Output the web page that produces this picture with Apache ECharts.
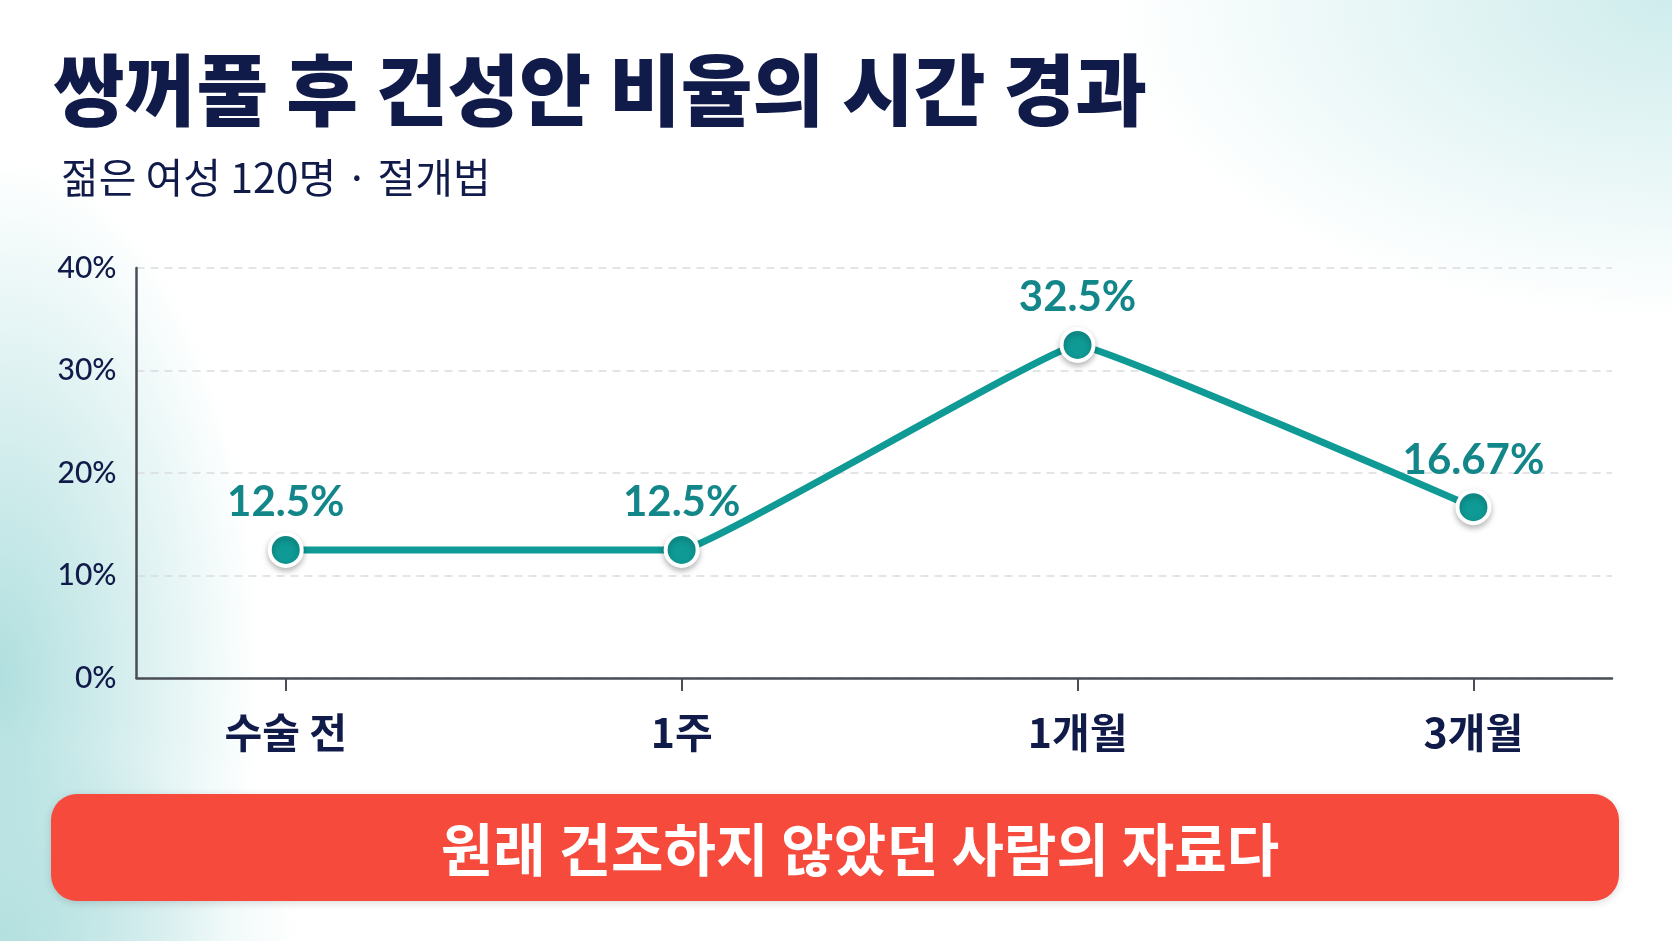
<!DOCTYPE html>
<html>
<head>
<meta charset="utf-8">
<title>쌍꺼풀 후 건성안 비율의 시간 경과</title>
<script src="https://cdn.jsdelivr.net/npm/echarts@6/dist/echarts.min.js"></script>
<style>
  html, body { margin: 0; padding: 0; }
  body {
    width: 1672px; height: 941px; overflow: hidden;
    background:
      radial-gradient(ellipse 260px 520px at 0% 72%, rgba(150, 212, 212, 0.75), rgba(150, 212, 212, 0) 100%),
      radial-gradient(ellipse 560px 320px at 100% 0%, rgba(175, 224, 224, 0.6), rgba(175, 224, 224, 0) 100%),
      radial-gradient(ellipse 300px 200px at 0% 100%, rgba(160, 215, 215, 0.6), rgba(160, 215, 215, 0) 100%),
      #ffffff;
  }
  #chart { width: 1672px; height: 941px; }
</style>
</head>
<body>
<div id="chart"></div>
<script>
  // 데이터
  var categories = ['수술 전', '1주', '1개월', '3개월'];
  var dryEyeRate = [12.5, 12.5, 32.5, 16.67];
  var yTicks = [0, 10, 20, 30, 40];

  var titleText = '쌍꺼풀 후 건성안 비율의 시간 경과';
  var subText = '젊은 여성 120명 · 절개법';
  var noteText = '원래 건조하지 않았던 사람의 자료다';

  var navy = '#111b4a';
  var teal = '#0f9a95';
  var krFont = '"Noto Sans CJK KR", "Noto Sans", sans-serif';
  var numFont = 'Lato, "Noto Sans CJK KR", sans-serif';

  var points = dryEyeRate.map(function (v, i) { return [i, v]; });
  var catIdx = categories.map(function (c, i) { return i; });

  var chart = echarts.init(document.getElementById('chart'));
  chart.setOption({
    backgroundColor: 'transparent',
    title: [{
      text: titleText,
      left: 48, top: 46,
      textStyle: { fontFamily: krFont, fontSize: 78, fontWeight: 900, color: navy }
    }, {
      text: subText,
      left: 56, top: 152,
      textStyle: { fontFamily: krFont, fontSize: 41, fontWeight: 'normal', color: navy }
    }],
    grid: { left: 136.5, right: 60, top: 268, bottom: 263 },
    xAxis: {
      type: 'value',
      min: -0.377,
      max: 3.35,
      axisLine: { show: true, onZero: false, lineStyle: { color: '#4a4d55', width: 2.5 } },
      axisTick: { show: true, customValues: catIdx, length: 13, lineStyle: { color: '#4a4d55', width: 2 } },
      axisLabel: {
        customValues: catIdx,
        margin: 34,
        fontFamily: krFont, fontSize: 41, fontWeight: 'bold', color: navy,
        formatter: function (v) { return categories[Math.round(v)]; }
      },
      splitLine: { show: false }
    },
    yAxis: {
      type: 'value',
      min: yTicks[0],
      max: yTicks[yTicks.length - 1],
      interval: 10,
      axisLine: { show: true, onZero: false, lineStyle: { color: '#4a4d55', width: 2.5 } },
      axisTick: { show: false },
      axisLabel: {
        margin: 20,
        fontFamily: numFont, fontSize: 30, fontWeight: 500, color: navy,
        formatter: '{value}%'
      },
      splitLine: { show: true, lineStyle: { color: '#d9dce1', width: 1.5, type: [8, 6] } }
    },
    series: [{
      type: 'line',
      data: points,
      smooth: 0.06,
      symbol: 'circle',
      symbolSize: 32,
      lineStyle: { color: teal, width: 7, join: 'round', cap: 'round' },
      itemStyle: {
        color: teal, borderColor: '#ffffff', borderWidth: 4,
        shadowColor: 'rgba(0,0,0,0.25)', shadowBlur: 6, shadowOffsetY: 3
      },
      label: {
        show: true, position: 'top', distance: 8,
        fontFamily: numFont, fontSize: 42, fontWeight: 'bold', color: '#13868a',
        formatter: function (p) { return p.value[1] + '%'; }
      },
      z: 3
    }],
    graphic: [{
      type: 'rect',
      shape: { x: 51, y: 794, width: 1568, height: 107, r: 26 },
      style: { fill: '#f64a3d', shadowColor: 'rgba(0,0,0,0.15)', shadowBlur: 8, shadowOffsetY: 2 }
    }, {
      type: 'text',
      x: 860, y: 849,
      style: {
        text: noteText, fill: '#ffffff',
        font: 'bold 57px ' + krFont,
        textAlign: 'center', textVerticalAlign: 'middle'
      }
    }]
  });
</script>
</body>
</html>
